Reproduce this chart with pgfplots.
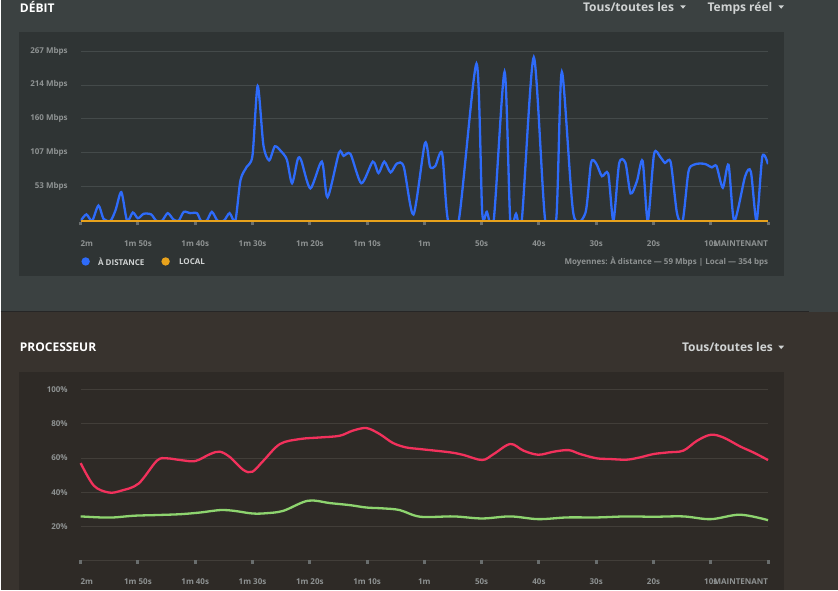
\documentclass[border=0pt]{standalone}
\usepackage{pgfplots}
\pgfplotsset{compat=1.18}
\usepackage{fontspec}
\setmainfont{Open Sans}
\definecolor{bgtop}{HTML}{3B4141}
\definecolor{bgbot}{HTML}{38332E}
\definecolor{paneltop}{HTML}{2F3434}
\definecolor{panelbot}{HTML}{2E2A26}
\definecolor{gridtop}{HTML}{444A4A}
\definecolor{gridbot}{HTML}{423E39}
\definecolor{ticktxt}{HTML}{8E9292}
\definecolor{tickmk}{HTML}{6A6E6E}
\definecolor{hdr}{HTML}{D0D3D3}
\definecolor{cblue}{HTML}{2E6BFA}
\definecolor{corange}{HTML}{E8A21C}
\definecolor{cred}{HTML}{F2315C}
\definecolor{cgreen}{HTML}{8ED46F}
\definecolor{sep}{HTML}{262626}
\pgfplotsset{
  dashbase/.style={
    scale only axis, width=688pt, xmin=0, xmax=120, clip=false,
    axis x line*=bottom, axis y line*=left, axis line style={draw=none},
    xtick={0,10,...,120},
    xticklabels={\rlap{2m},1m 50s,1m 40s,1m 30s,1m 20s,1m 10s,1m,50s,40s,30s,20s,10s,\llap{MAINTENANT}},
    tick align=outside, major tick length=3.5pt,
    xtick style={line width=3pt, color=tickmk},
    ytick style={draw=none},
    ymajorgrids, grid style={line width=0.8pt},
    tick label style={font=\fontsize{8}{9}\selectfont\bfseries, color=ticktxt},
    xticklabel style={yshift=-11.5pt},
    yticklabel style={anchor=east, xshift=-6pt},
  }
}
\begin{document}
\begin{tikzpicture}
\begin{scope}[x=1pt,y=1pt]
\fill[bgtop] (0,279) rectangle (838,591);
\fill[bgbot] (0,0) rectangle (838,279);
\draw[sep, line width=1.5pt] (0,279) -- (809,279);
\fill[paneltop] (18.3,314.3) rectangle (784.3,558.7);
\fill[panelbot] (18.3,0) rectangle (784.3,218.3);
% headers
\node[anchor=base west, inner sep=0, text=white, font=\fontsize{12}{14}\selectfont\bfseries] at (19,578.7) {DÉBIT};
\node[anchor=base west, inner sep=0, text=hdr, font=\fontsize{12}{14}\selectfont\bfseries] at (582.7,579.3) {Tous/toutes les};
\fill[hdr] (680,585.7) -- (685.7,585.7) -- (682.85,582.3) -- cycle;
\node[anchor=base west, inner sep=0, text=hdr, font=\fontsize{12}{14}\selectfont\bfseries] at (707.3,579.3) {Temps réel};
\fill[hdr] (778.3,585.7) -- (784,585.7) -- (781.15,582.3) -- cycle;
\node[anchor=base west, inner sep=0, text=white, font=\fontsize{12}{14}\selectfont\bfseries] at (19,238.7) {PROCESSEUR};
\node[anchor=base west, inner sep=0, text=hdr, font=\fontsize{12}{14}\selectfont\bfseries] at (681.7,238.7) {Tous/toutes les};
\fill[hdr] (778.3,245) -- (784,245) -- (781.15,241.6) -- cycle;
% legend
\fill[cblue] (85,329.3) circle (4.2);
\node[anchor=west, inner sep=0, text=hdr, font=\fontsize{8}{9}\selectfont\bfseries] at (97.3,329.3) {À DISTANCE};
\fill[corange] (165,329.3) circle (4.2);
\node[anchor=west, inner sep=0, text=hdr, font=\fontsize{8}{9}\selectfont\bfseries] at (178.3,329.3) {LOCAL};
\node[anchor=east, inner sep=0, text=ticktxt, font=\fontsize{8}{9}\selectfont\bfseries] at (768.3,329.3) {Moyennes: À distance — 59 Mbps | Local — 354 bps};
\end{scope}
% top axis
\begin{axis}[dashbase, at={(80pt,369pt)}, anchor=south west, height=171pt,
  ymin=-1.6, ymax=267, clip=true, grid style={color=gridtop},
  ytick={53.4,106.8,160.2,213.6,267},
  yticklabels={53 Mbps,107 Mbps,160 Mbps,214 Mbps,267 Mbps}]
\addplot[cblue, line width=2.3pt, smooth, tension=0.45] coordinates {
(0,0) (1,10) (2,0) (3.1,24) (4,3) (5.2,0) (6.1,17) (7.1,45) (8.1,0) (9.1,13) (10,4) (11,11) (12.3,10) (13.2,0) (14.2,0) (15.2,12) (16.2,2) (17.1,0) (18,14) (19.1,12) (20.3,12) (21,0) (22,0) (22.9,14) (23.9,0) (25,0) (26,12) (27,0) (27.9,64) (29,85) (30,103) (30.9,212) (31.9,119) (32.9,95) (33.9,117) (35,109) (36,96) (36.9,59) (37.9,97) (38.5,95) (40.1,51) (42.1,93) (43.1,37) (45.1,107) (45.9,102) (47.1,105) (49,59) (51,93) (52,75) (53,93) (54.1,76) (55.2,90) (56.4,85) (58.1,10) (60.1,122) (61,85) (61.9,86) (63.1,106) (64.1,2) (66,0) (69.1,247) (70.1,13) (70.9,14) (72.1,0) (74,234) (75,0) (76,11) (77,0) (79.1,257) (81.1,0) (83,0) (84,234) (86,12) (88.1,12) (89.1,91) (90,90) (91,70) (92.1,74) (93,0) (94,90) (95.1,91) (96,43) (97.1,62) (98.1,94) (99,0) (100.1,105) (101.2,100) (102,91) (103,92) (104.1,12) (105.1,0) (106.1,77) (107,88) (108.1,90) (109.1,89) (110.2,84) (111,86) (112.1,52) (113.1,88) (114.1,0) (116,70) (117,77) (118,0) (119,101) (120,89)
};
\addplot[corange, line width=2pt] coordinates {(0,0) (120,0)};
\end{axis}
% bottom axis
\begin{axis}[dashbase, at={(80pt,30pt)}, anchor=south west, height=171pt,
  ymin=0, ymax=100, grid style={color=gridbot},
  ytick={0,20,40,60,80,100},
  yticklabels={,20\%,40\%,60\%,80\%,100\%}]
\addplot[cred, line width=2.3pt, smooth, tension=0.55] coordinates {
(0,57) (2.3,43.8) (4.9,39.8) (7,40.8) (10.1,45) (13.3,58.4) (15,59.8) (17.4,58.8) (20,58.2) (22.6,62.3) (24.3,63.7) (26.1,60.4) (28.4,53) (30,52) (31.9,58.4) (34.8,68.2) (38.3,71.1) (41.7,72) (45.2,73) (47.5,76) (49.9,77.5) (52.2,74) (54.5,68.8) (56.8,66.2) (59.3,65.2) (64.5,63.3) (66.9,61.7) (70.1,58.8) (72.1,62.3) (75,68.2) (77.3,64.3) (79.9,61.9) (82.6,63.7) (85.2,64.6) (87.2,62.3) (90.1,59.8) (92.4,59.4) (95.3,59) (97.7,60.4) (100,62.3) (102.6,63.3) (105.2,64.3) (107.6,70.1) (110,73.6) (112.2,72) (115.1,66.8) (117.4,63.3) (120,58.8)
};
\addplot[cgreen, line width=2.3pt, smooth, tension=0.55] coordinates {
(0,25.8) (3.5,25.2) (5.8,25.2) (9.3,26.2) (13.3,26.6) (17.4,27.1) (20.9,28.1) (24.3,29.5) (26.7,29.1) (30,27.5) (32.5,27.7) (35.4,29.1) (39.7,35) (43.5,33.6) (47,32.4) (49.9,31) (52.8,30.5) (55.7,29.5) (59.3,25.6) (65.1,25.8) (70.1,24.6) (75,25.8) (79.9,24.2) (84.9,25.2) (90.1,25.2) (95.3,25.8) (100,25.6) (105.2,25.8) (110,24.2) (115.1,26.8) (120,23.6)
};
\end{axis}
\end{tikzpicture}
\end{document}
